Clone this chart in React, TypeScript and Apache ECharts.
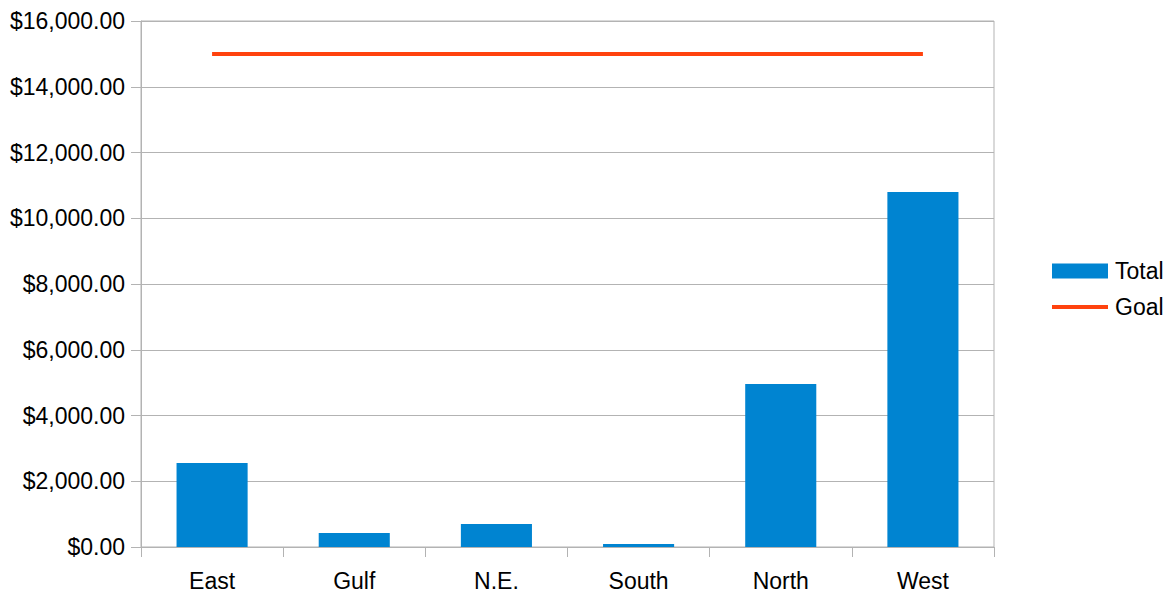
import React, { useEffect, useRef } from "react";
import * as echarts from "echarts";

const categories = ["East", "Gulf", "N.E.", "South", "North", "West"];
const totalValues = [2555, 426, 700, 90, 4960, 10800];
const goalValues = [15000, 15000, 15000, 15000, 15000, 15000];
const seriesNames = ["Total", "Goal"];

const FONT = "'Liberation Sans', Arial, sans-serif";
const GRAY = "#b3b3b3";

export default function App() {
  const ref = useRef<HTMLDivElement>(null);
  useEffect(() => {
    if (!ref.current) return;
    const chart = echarts.init(ref.current, undefined, { renderer: "svg" });
    chart.setOption({
      animation: false,
      backgroundColor: "#ffffff",
      textStyle: { fontFamily: FONT },
      grid: {
        left: 141,
        right: 175,
        top: 21,
        bottom: 45,
        show: true,
        borderColor: GRAY,
        borderWidth: 1,
      },
      legend: {
        orient: "vertical",
        left: 1047,
        top: 254,
        itemWidth: 56,
        itemHeight: 15,
        itemGap: 12,
        textStyle: {
          fontSize: 23,
          lineHeight: 24,
          color: "#000",
          fontFamily: FONT,
          padding: [0, 0, 0, 2],
        },
        data: [
          { name: seriesNames[0], icon: "rect" },
          { name: seriesNames[1], icon: "path://M0,0 L56,0 L56,4 L0,4 Z" },
        ],
      },
      xAxis: {
        type: "category",
        data: categories,
        axisLine: { lineStyle: { color: GRAY, width: 1 } },
        axisTick: { show: true, length: 10, lineStyle: { color: GRAY } },
        axisLabel: { fontSize: 23, color: "#000", margin: 22, fontFamily: FONT },
      },
      yAxis: {
        type: "value",
        min: 0,
        max: 16000,
        interval: 2000,
        axisLine: { show: true, lineStyle: { color: GRAY, width: 1 } },
        axisTick: { show: true, length: 10, lineStyle: { color: GRAY } },
        splitLine: { lineStyle: { color: GRAY, width: 1 } },
        axisLabel: {
          fontSize: 23,
          color: "#000",
          margin: 16,
          fontFamily: FONT,
          formatter: (v: number) =>
            "$" + v.toLocaleString("en-US", { minimumFractionDigits: 2, maximumFractionDigits: 2 }),
        },
      },
      series: [
        {
          name: seriesNames[0],
          type: "bar",
          data: totalValues,
          barWidth: "50%",
          itemStyle: { color: "#0084d1" },
        },
        {
          name: seriesNames[1],
          type: "line",
          data: goalValues,
          symbol: "none",
          lineStyle: { color: "#ff420e", width: 4 },
          itemStyle: { color: "#ff420e" },
        },
      ],
    });
    return () => chart.dispose();
  }, []);
  return (
    <div
      ref={ref}
      style={{ position: "fixed", left: 0, top: 0, width: 1169, height: 592, background: "#fff" }}
    />
  );
}
